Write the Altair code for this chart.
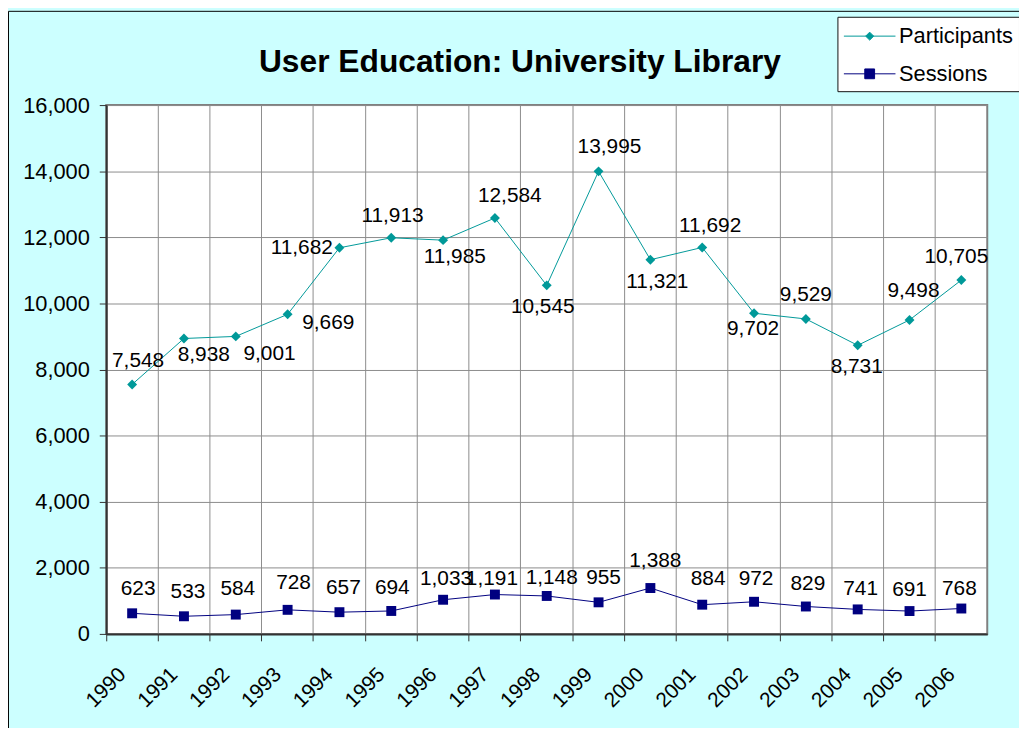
import altair as alt
import pandas as pd

# ---------------- data ----------------
years = ["1990", "1991", "1992", "1993", "1994", "1995", "1996", "1997", "1998",
         "1999", "2000", "2001", "2002", "2003", "2004", "2005", "2006"]
participants = [7548, 8938, 9001, 9669, 11682, 11985, 11913, 12584, 10545,
                13995, 11321, 11692, 9702, 9529, 8731, 9498, 10705]
sessions = [623, 533, 584, 728, 657, 694, 1033, 1191, 1148,
            955, 1388, 884, 972, 829, 741, 691, 768]
series_names = ["Participants", "Sessions"]
y_ticks = [0, 2000, 4000, 6000, 8000, 10000, 12000, 14000, 16000]
title_text = "User Education: University Library"

# ---------------- styling / layout ----------------
series_colors = ["#009999", "#000080"]
FONT = "Liberation Sans"
p_label_dx = [6, 20, 34, 41, -38, 64, -51, 15, -4, 11, 7, 8, -1, 0, -1, 4, -5]
p_label_dy = [-24, 17, 18, 9, 0, 19, -24, -22, 22, -24, 22, -22, 16, -24, 22, -29, -23]
s_label_dx = [6, 4, 2, 6, 4, 1, 3, -3, 5, 5, 5, 6, 2, 2, 3, 0, -2]
s_label_dy = [-24, -24, -26, -27, -24, -23, -21, -16, -18, -24, -27, -26, -23, -23, -21, -21, -20]
# legend symbols: a line with the marker in its middle
legend_paths = [
    "M-1,0H3M1,-0.31L1.31,0L1,0.31L0.69,0Z",
    "M-1,0H3M0.62,-0.38H1.38V0.38H0.62Z",
]

rows = []
for i, yr in enumerate(years):
    rows.append({"year": yr, "series": series_names[0], "value": participants[i]})
    rows.append({"year": yr, "series": series_names[1], "value": sessions[i]})
df = pd.DataFrame(rows)

grid_col = "#8c8c8c"
axis_col = "#333333"

x_enc = alt.X(
    "year:O", sort=years,
    scale=alt.Scale(type="band", domain=years, paddingInner=0, paddingOuter=0),
    axis=alt.Axis(title=None, bandPosition=0, labelAngle=315, labelAlign="center",
                  labelBaseline="middle", labelPadding=47, labelOffset=-26,
                  labelFontSize=21, labelFont=FONT, labelColor="black", tickSize=7,
                  tickColor=axis_col, domainColor=axis_col, domainWidth=2, grid=True,
                  gridColor=grid_col, gridWidth=1, labelOverlap=False),
)
y_enc = alt.Y(
    "value:Q",
    scale=alt.Scale(domain=[0, 16000], nice=False),
    axis=alt.Axis(title=None, values=y_ticks, format=",.0f", labelFontSize=22,
                  labelFont=FONT, labelColor="black", labelPadding=10, tickSize=7,
                  tickColor=axis_col, domainColor=axis_col, domainWidth=2,
                  grid=True, gridColor=grid_col, gridWidth=1),
)

base = alt.Chart(df)

leg = alt.Legend(title=None, orient="none", legendX=737, legendY=-89,
                 symbolSize=676, symbolStrokeWidth=1, symbolOpacity=1,
                 labelFontSize=22, labelFont=FONT, labelColor="black",
                 padding=6, strokeColor="#111111", fillColor="white",
                 labelOffset=29, rowPadding=13)

lines = base.mark_line(strokeWidth=1).encode(
    x=x_enc, y=y_enc,
    stroke=alt.Stroke("series:N", scale=alt.Scale(domain=series_names, range=series_colors), legend=leg),
)

legend_layer = base.mark_point(filled=True, size=0.0001).encode(
    x=x_enc, y=y_enc,
    shape=alt.Shape("series:N", scale=alt.Scale(domain=series_names, range=legend_paths), legend=leg),
    fill=alt.Fill("series:N", scale=alt.Scale(domain=series_names, range=series_colors), legend=leg),
)

pts_p = base.transform_filter(alt.datum.series == series_names[0]).mark_point(
    shape="diamond", filled=True, size=100, opacity=1, color=series_colors[0]
).encode(x=x_enc, y=y_enc)

pts_s = base.transform_filter(alt.datum.series == series_names[1]).mark_point(
    shape="square", filled=True, size=100, opacity=1, color=series_colors[1]
).encode(x=x_enc, y=y_enc)

label_layers = []
for s_name, dxs, dys in [(series_names[0], p_label_dx, p_label_dy),
                         (series_names[1], s_label_dx, s_label_dy)]:
    for i, yr in enumerate(years):
        label_layers.append(
            base.transform_filter(
                (alt.datum.series == s_name) & (alt.datum.year == yr)
            ).mark_text(dx=dxs[i], dy=dys[i], fontSize=21, font=FONT, color="black",
                        align="center", baseline="middle")
            .encode(x=x_enc, y=y_enc, text=alt.Text("value:Q", format=","))
        )

frame_df = pd.DataFrame({"k": [0]})
title_layer = alt.Chart(frame_df).mark_text(
    text=title_text, fontSize=32, font=FONT, fontWeight="bold", color="black",
    align="center", baseline="alphabetic"
).encode(x=alt.value(417), y=alt.value(-33))
frame_left = alt.Chart(frame_df).mark_rule(color="black", strokeWidth=1).encode(
    x=alt.value(-98.5), y=alt.value(-94.5), y2=alt.value(640))
frame_top = alt.Chart(frame_df).mark_rule(color="black", strokeWidth=1).encode(
    x=alt.value(-98.5), x2=alt.value(930), y=alt.value(-94.5))

chart = alt.layer(
    lines, legend_layer, pts_p, pts_s, *label_layers, title_layer, frame_left, frame_top
).properties(
    width=888, height=533,
    padding={"left": 99, "top": 95, "right": 32, "bottom": 92},
    autosize=alt.AutoSizeParams(type="none"),
).configure(
    background="#CCFFFF", font=FONT
).configure_view(
    stroke="#808080", strokeWidth=2, fill="white"
)

chart.save("out.html", embed_options={"renderer": "svg", "actions": False})
